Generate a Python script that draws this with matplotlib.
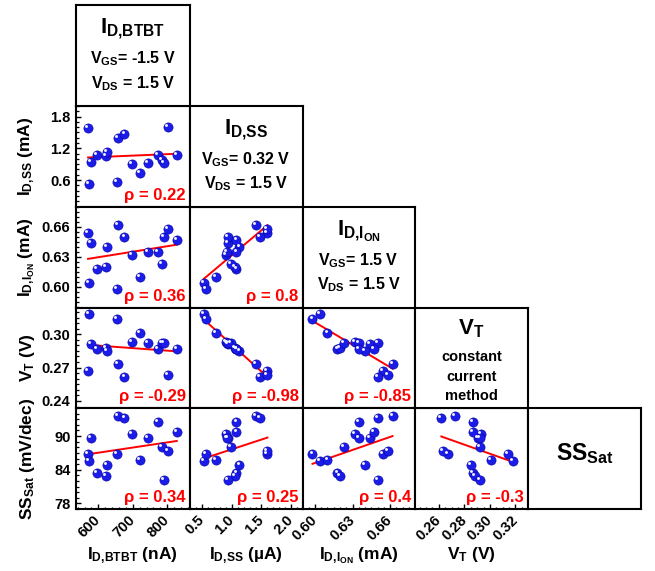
import numpy as np
import matplotlib
matplotlib.use('Agg')
import matplotlib.pyplot as plt
from matplotlib.ticker import FixedLocator, FixedFormatter, AutoMinorLocator
from matplotlib.transforms import ScaledTranslation

plt.rcParams['font.family'] = ['Liberation Sans', 'DejaVu Sans']
plt.rcParams['font.weight'] = 'bold'
plt.rcParams['mathtext.fontset'] = 'custom'
plt.rcParams['mathtext.rm'] = 'Liberation Sans:bold'
plt.rcParams['mathtext.it'] = 'Liberation Sans:bold'
plt.rcParams['mathtext.bf'] = 'Liberation Sans:bold'
plt.rcParams['mathtext.sf'] = 'Liberation Sans:bold'

# ---------------- data (17 devices) ----------------
i_btbt = [570, 578, 596, 622, 625, 572, 653, 658, 676, 699, 720, 744, 774, 786, 792, 803, 828]          # nA
i_ss   = [1.59, 0.94, 1.08, 1.06, 1.13, 0.53, 0.56, 1.40, 1.48, 0.90, 0.74, 0.92, 1.08, 0.98, 0.93, 1.60, 1.08]
i_on   = [0.654, 0.644, 0.618, 0.620, 0.640, 0.604, 0.598, 0.662, 0.650, 0.632, 0.610, 0.635, 0.635, 0.623, 0.650, 0.658, 0.647]
v_t    = [0.267, 0.291, 0.287, 0.288, 0.285, 0.318, 0.314, 0.273, 0.262, 0.293, 0.301, 0.292, 0.2865, 0.2925, 0.292, 0.263, 0.287]
ss_sat = [86.8, 89.7, 83.5, 82.9, 84.8, 85.6, 86.8, 93.6, 93.2, 90.3, 85.7, 89.6, 92.5, 88.0, 82.2, 87.4, 90.7]

variables = [i_btbt, i_ss, i_on, v_t, ss_sat]

# correlation coefficients shown in the lower-triangle panels (row -> list by column)
rho_text = [
    [],
    ["0.22"],
    ["0.36", "0.8"],
    ["-0.29", "-0.98", "-0.85"],
    ["0.34", "0.25", "0.4", "-0.3"],
]

x_labels = [r'I$_{D{,}BTBT}$ (nA)', r'I$_{D{,}SS}$ (µA)', r'I$_{D{,}I_{ON}}$ (mA)', r'V$_{T}$ (V)']
y_labels = [r'I$_{D{,}SS}$ (mA)', r'I$_{D{,}I_{ON}}$ (mA)', r'V$_{T}$ (V)', r'SS$_{Sat}$ (mV/dec)']

x_ticks = [[600, 700, 800], [0.5, 1.0, 1.5, 2.0], [0.60, 0.63, 0.66], [0.26, 0.28, 0.30, 0.32]]
x_ticklabels = [['600', '700', '800'], ['0.5', '1.0', '1.5', '2.0'], ['0.60', '0.63', '0.66'],
                ['0.26', '0.28', '0.30', '0.32']]
y_ticks = [[0.6, 1.2, 1.8], [0.60, 0.63, 0.66], [0.24, 0.27, 0.30], [78, 84, 90]]
y_ticklabels = [['0.6', '1.2', '1.8'], ['0.60', '0.63', '0.66'], ['0.24', '0.27', '0.30'], ['78', '84', '90']]

x_lims = [(535, 865), (0.29, 2.19), (0.590, 0.680), (0.2414, 0.3298)]
y_lims = [(0.1, 2.0), (0.579, 0.68), (0.2337, 0.324), (77, 95)]
x_minor = [5, 5, 6, 4]
y_minor = [6, 6, 6, 6]

# ---------------- layout ----------------
W, H = 655, 571
fig = plt.figure(figsize=(W / 100, H / 100), dpi=100)
col_edges = [76, 189.5, 302.5, 415, 528, 641]
row_edges = [5, 106, 206.5, 307.5, 408, 509]


def rect(r, c):
    x0, x1 = col_edges[c], col_edges[c + 1]
    y0, y1 = row_edges[r], row_edges[r + 1]
    return [x0 / W, 1 - y1 / H, (x1 - x0) / W, (y1 - y0) / H]


SPINE_LW = 1.5
blue = '#1c1ce8'

hl = ScaledTranslation(-1.4 / 72, 1.4 / 72, fig.dpi_scale_trans)

for r in range(1, 5):
    for c in range(0, r):
        ax = fig.add_axes(rect(r, c))
        x = np.array(variables[c], dtype=float)
        y = np.array(variables[r], dtype=float)
        k, b = np.polyfit(x, y, 1)
        xx = np.array([x.min(), x.max()])
        ax.plot(xx, k * xx + b, color='#ff0000', lw=1.4, zorder=2)
        ax.scatter(x, y, s=44, c=blue, edgecolors='#0000a0', linewidths=0.4, zorder=3)
        ax.scatter(x, y, s=4.5, c='#f0f0ff', linewidths=0, zorder=4,
                   transform=ax.transData + hl)
        ax.set_xlim(*x_lims[c])
        ax.set_ylim(*y_lims[r - 1])
        for s in ax.spines.values():
            s.set_linewidth(SPINE_LW)
        ax.text(0.965, 0.065, 'ρ = ' + rho_text[r][c], color='#ff0000', fontsize=12,
                fontweight='bold', ha='right', va='baseline', transform=ax.transAxes)

        ax.tick_params(which='both', direction='in', top=False, right=False)
        ax.tick_params(which='major', length=3.6, width=1.0)
        ax.tick_params(which='minor', length=1.8, width=0.9)

        if c == 0:
            ax.yaxis.set_major_locator(FixedLocator(y_ticks[r - 1]))
            ax.yaxis.set_major_formatter(FixedFormatter(y_ticklabels[r - 1]))
            ax.yaxis.set_minor_locator(AutoMinorLocator(y_minor[r - 1]))
            ax.tick_params(axis='y', labelsize=10.5, pad=4)
            ax.set_ylabel(y_labels[r - 1], fontsize=12.5, fontweight='bold')
            ax.yaxis.set_label_coords(-0.34, 0.5)
        else:
            ax.yaxis.set_major_locator(FixedLocator([]))
            ax.yaxis.set_minor_locator(FixedLocator([]))

        if r == 4:
            ax.xaxis.set_major_locator(FixedLocator(x_ticks[c]))
            ax.xaxis.set_major_formatter(FixedFormatter(x_ticklabels[c]))
            ax.xaxis.set_minor_locator(AutoMinorLocator(x_minor[c]))
            ax.tick_params(axis='x', labelsize=10.5, pad=6.5)
            for lbl in ax.get_xticklabels():
                lbl.set_rotation(45)
                lbl.set_ha('right')
                lbl.set_va('center')
                lbl.set_rotation_mode('anchor')
            ax.set_xlabel(x_labels[c], fontsize=12.5, fontweight='bold')
            ax.xaxis.set_label_coords(0.5, -0.36)
        else:
            ax.xaxis.set_major_locator(FixedLocator([]))
            ax.xaxis.set_minor_locator(FixedLocator([]))

# ---------------- diagonal boxes ----------------
diag_texts = [
    [(r'I$_{D{,}BTBT}$', 16, 0.72), (r'V$_{GS}$= -1.5 V', 11.5, 0.42), (r'V$_{DS}$ = 1.5 V', 11.5, 0.18)],
    [(r'I$_{D{,}SS}$', 16, 0.72), (r'V$_{GS}$= 0.32 V', 11.5, 0.42), (r'V$_{DS}$ = 1.5 V', 11.5, 0.18)],
    [(r'I$_{D{,}I_{ON}}$', 16, 0.72), (r'V$_{GS}$= 1.5 V', 11.5, 0.42), (r'V$_{DS}$ = 1.5 V', 11.5, 0.18)],
    [(r'V$_{T}$', 16, 0.73), ('constant', 10.5, 0.47), ('current', 10.5, 0.27), ('method', 10.5, 0.08)],
    [(r'SS$_{Sat}$', 16.5, 0.48)],
]

for d in range(5):
    ax = fig.add_axes(rect(d, d))
    ax.set_xticks([])
    ax.set_yticks([])
    for s in ax.spines.values():
        s.set_linewidth(SPINE_LW)
    for txt, fs, yy in diag_texts[d]:
        ax.text(0.5, yy, txt, fontsize=fs, fontweight='bold', ha='center', va='baseline',
                transform=ax.transAxes)

fig.savefig('out.png', dpi=100)
